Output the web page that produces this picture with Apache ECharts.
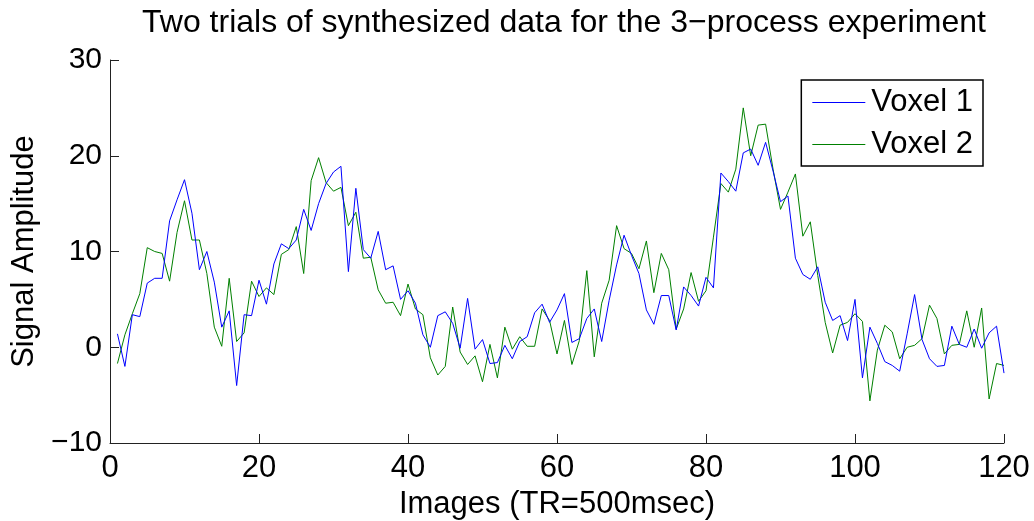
<!DOCTYPE html>
<html>
<head>
<meta charset="utf-8">
<script src="https://cdn.jsdelivr.net/npm/echarts@6/dist/echarts.min.js"></script>
<style>html,body{margin:0;padding:0;background:#fff}#c{width:1034px;height:521px}</style>
</head>
<body>
<div id="c"></div>
<script>
const titleText = 'Two trials of synthesized data for the 3\u2212process experiment';
const xName = 'Images (TR=500msec)';
const yName = 'Signal Amplitude';
const seriesNames = ['Voxel 1', 'Voxel 2'];
const images = Array.from({length: 120}, (_, i) => i + 1);
const voxel1 = [
  1.4, -2.0, 3.4, 3.2, 6.7, 7.2, 7.2, 13.2, 15.4, 17.5,
  14.0, 8.1, 10.0, 6.8, 2.1, 3.8, -4.0, 3.4, 3.3, 7.0,
  4.5, 8.7, 10.8, 10.3, 11.2, 14.4, 12.2, 15.0, 17.1, 18.3,
  18.9, 7.9, 16.6, 10.2, 9.3, 12.1, 8.1, 8.5, 5.0, 5.9,
  4.6, 1.3, 0.0, 3.3, 3.7, 2.5, -0.1, 5.1, -0.2, 0.8,
  -1.7, -1.6, 0.2, -1.2, 0.6, 1.1, 3.6, 4.5, 2.6, 3.9,
  5.6, 0.5, 0.9, 3.0, 4.0, 0.6, 4.9, 8.6, 11.7, 9.6,
  7.7, 3.9, 2.4, 5.4, 5.4, 1.8, 6.3, 5.4, 4.3, 7.3,
  6.2, 18.2, 17.3, 16.3, 20.3, 20.7, 19.0, 21.4, 18.4, 15.2,
  15.8, 9.3, 7.6, 7.1, 8.4, 4.7, 2.8, 3.3, 0.7, 5.0,
  -3.2, 2.1, 0.4, -1.5, -1.9, -2.5, 1.4, 5.5, 0.8, -1.2,
  -2.0, -1.9, 2.2, 0.3, 0.0, 1.9, -0.1, 1.5, 2.2, -2.7
];
const voxel2 = [
  -1.7, 1.3, 3.5, 5.6, 10.4, 10.0, 9.8, 6.9, 12.0, 15.3,
  11.2, 11.2, 7.7, 2.1, 0.1, 7.2, 0.6, 1.5, 6.9, 5.3,
  6.2, 5.5, 9.7, 10.2, 12.6, 7.7, 17.4, 19.8, 17.2, 16.3,
  16.7, 12.7, 14.1, 9.3, 9.4, 6.0, 4.6, 4.7, 3.3, 6.6,
  4.0, 3.4, -1.1, -2.9, -2.0, 4.2, -0.5, -1.8, -0.9, -3.6,
  0.3, -3.2, 2.1, -0.2, 1.1, 0.1, 0.1, 4.0, 2.8, -0.7,
  2.8, -1.8, 0.7, 8.0, -1.0, 4.6, 7.0, 12.7, 10.3, 9.8,
  8.2, 11.1, 5.7, 9.8, 8.1, 1.9, 4.0, 7.8, 4.8, 5.9,
  11.5, 17.1, 16.2, 18.6, 25.0, 20.0, 23.2, 23.3, 18.6, 14.4,
  16.2, 18.1, 11.6, 13.1, 7.5, 2.6, -0.6, 2.3, 2.6, 3.5,
  2.7, -5.6, -0.3, 2.3, 1.6, -1.2, 0.0, 0.2, 0.9, 4.4,
  3.0, -0.7, 0.2, 0.3, 3.8, 0.0, 4.1, -5.4, -1.7, -1.9
];
const xTicks = {min: 0, max: 120, interval: 20};
const yTicks = {min: -10, max: 30, interval: 10};

const font = 'Liberation Sans, Arial, Helvetica, sans-serif';
const chart = echarts.init(document.getElementById('c'), null, {renderer: 'canvas'});
const axisLineStyle = {color: '#222', width: 1};
chart.setOption({
  animation: false,
  backgroundColor: '#fff',
  title: {
    text: titleText, left: 559, top: 2, textAlign: 'center',
    textStyle: {fontFamily: font, fontSize: 32, fontWeight: 'normal', color: '#000'}
  },
  grid: {left: 110, right: 30, top: 60, bottom: 78, containLabel: false, outerBoundsMode: 'none'},
  legend: {
    data: seriesNames.map(n => ({name: n, icon: 'rect'})),
    orient: 'vertical', right: 51, top: 80,
    backgroundColor: '#fff', borderColor: '#000', borderWidth: 1.5,
    padding: [7, 10, 6, 11], itemGap: 11, itemWidth: 53, itemHeight: 1,
    textStyle: {fontFamily: font, fontSize: 31, color: '#000', padding: [0, 0, 0, 1]}
  },
  xAxis: {
    type: 'value', min: xTicks.min, max: xTicks.max, interval: xTicks.interval,
    position: 'bottom', name: xName, nameLocation: 'middle', nameGap: 36,
    nameTextStyle: {fontFamily: font, fontSize: 31, color: '#000'},
    axisLine: {show: true, onZero: false, lineStyle: axisLineStyle},
    axisTick: {show: true, inside: true, length: 9, lineStyle: {color: '#222'}},
    axisLabel: {fontFamily: font, fontSize: 31, color: '#000', margin: 10},
    splitLine: {show: false}
  },
  yAxis: {
    type: 'value', min: yTicks.min, max: yTicks.max, interval: yTicks.interval,
    position: 'left', name: yName, nameLocation: 'middle', nameGap: 68,
    nameTextStyle: {fontFamily: font, fontSize: 31, color: '#000'},
    axisLine: {show: true, onZero: false, lineStyle: axisLineStyle},
    axisTick: {show: true, inside: true, length: 9, lineStyle: {color: '#222'}},
    axisLabel: {fontFamily: font, fontSize: 30, color: '#000', margin: 8,
      formatter: v => String(v).replace('-', '\u2212')},
    splitLine: {show: false}
  },
  series: [
    {name: seriesNames[0], type: 'line', data: images.map((x, i) => [x, voxel1[i]]),
     showSymbol: false, symbol: 'none', lineStyle: {color: '#0000ff', width: 1}, itemStyle: {color: '#0000ff'}, z: 3},
    {name: seriesNames[1], type: 'line', data: images.map((x, i) => [x, voxel2[i]]),
     showSymbol: false, symbol: 'none', lineStyle: {color: '#008000', width: 1}, itemStyle: {color: '#008000'}, z: 2}
  ]
});
</script>
</body>
</html>
